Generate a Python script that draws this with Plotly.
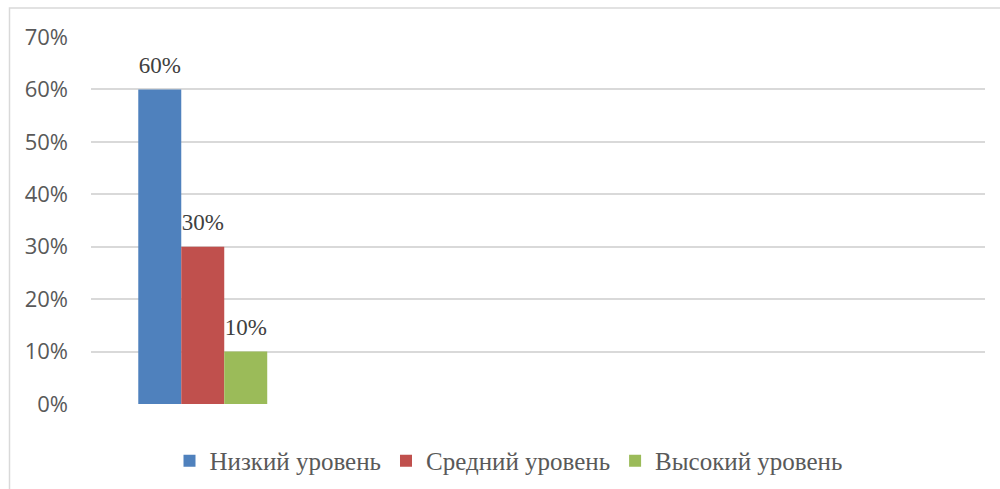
import plotly.graph_objects as go

categories = ["1", "2", "3", "4"]
series_names = ["Низкий уровень", "Средний уровень", "Высокий уровень"]
low_values = [0.60, None, None, None]
mid_values = [0.30, None, None, None]
high_values = [0.10, None, None, None]
colors = ["#4F81BD", "#C0504D", "#9BBB59"]
y_ticks = [0, 0.1, 0.2, 0.3, 0.4, 0.5, 0.6, 0.7]
y_tick_labels = ["0%", "10%", "20%", "30%", "40%", "50%", "60%", "70%"]

SERIF = "Liberation Serif"
GAP = 0.423

fig = go.Figure()
all_vals = [low_values, mid_values, high_values]
for name, vals, col in zip(series_names, all_vals, colors):
    fig.add_trace(go.Bar(
        x=categories, y=vals, name=name,
        marker=dict(color=col, line=dict(width=0)),
    ))
# data labels, grouped like the bars
for name, vals in zip(series_names, all_vals):
    fig.add_trace(go.Scatter(
        x=categories, y=vals, mode="markers+text", showlegend=False,
        marker=dict(size=16, opacity=0),
        text=[f"{v*100:.0f}%" if v is not None else "" for v in vals],
        textposition="top center", hoverinfo="skip", cliponaxis=False,
        textfont=dict(family=SERIF, size=23, color="#404040"),
    ))

fig.update_layout(
    width=1000, height=489,
    margin=dict(l=91, r=15, t=36.5, b=85, autoexpand=False),
    paper_bgcolor="white", plot_bgcolor="white",
    barmode="group", bargap=GAP, bargroupgap=0,
    scattermode="group", scattergap=GAP,
    showlegend=True,
    legend=dict(orientation="h", x=0.467, xanchor="center", y=-0.155, yanchor="middle",
                font=dict(family=SERIF, size=25, color="#595959"),
                itemwidth=30, traceorder="normal"),
    xaxis=dict(type="category", categoryorder="array", categoryarray=categories,
               range=[-0.5, 3.5], showticklabels=False, showgrid=False,
               zeroline=False, showline=False, ticks=""),
    yaxis=dict(range=[0, 0.7], tickvals=y_ticks, ticktext=y_tick_labels,
               showgrid=True, gridcolor="#D9D9D9", gridwidth=1.5,
               zeroline=False, showline=False, ticks="",
               ticklabelstandoff=22,
               tickfont=dict(family="Open Sans", size=22, color="#595959")),
    shapes=[dict(type="rect", xref="paper", yref="paper",
                 x0=(9.5 - 91) / 894, x1=(1010 - 91) / 894,
                 y0=(404 - 500) / 367.5, y1=(404 - 7.5) / 367.5,
                 line=dict(color="#D9D9D9", width=1.5), fillcolor="rgba(0,0,0,0)",
                 layer="below")],
)

fig.write_html("out.html")
